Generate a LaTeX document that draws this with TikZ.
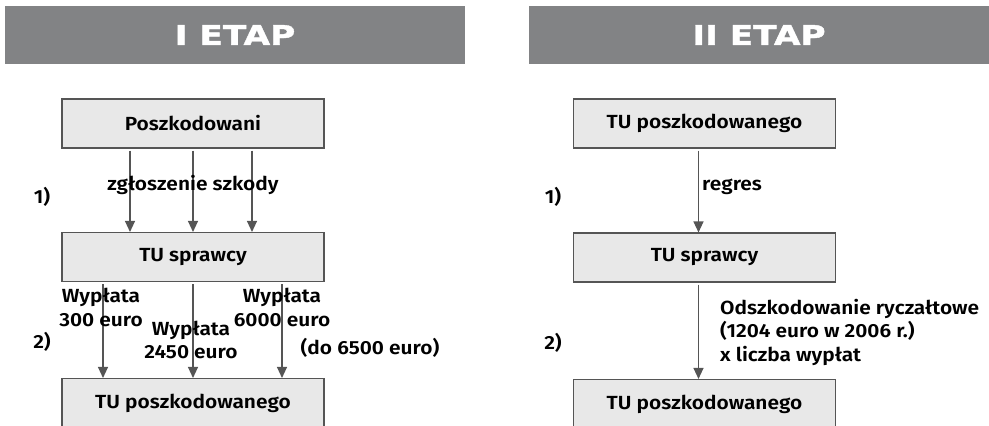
\documentclass[tikz,border=0pt]{standalone}
\usepackage{fontspec}
\setmainfont[FakeStretch=1.1]{Fira Sans SemiBold}
\newfontfamily\glowny[FakeStretch=1.27,FakeBold=1.5]{DejaVu Sans Bold}
\usepackage{xcolor}
\definecolor{szary}{RGB}{130,131,133}
\definecolor{szaryJasny}{RGB}{232,232,232}
\definecolor{szaryCiemny}{RGB}{85,85,85}
\usetikzlibrary{arrows.meta,calc,positioning}
\tikzstyle{pudelko}  =[rectangle, draw=szaryCiemny, fill=szaryJasny,
                    line width=1.1pt, minimum width=262pt,
                    minimum height=49pt, inner sep=0pt,
                    font=\fontsize{19}{23}\selectfont]
\tikzstyle{naglowek}=[rectangle, fill=szary, minimum width=460pt,
                    minimum height=58pt, inner sep=0pt, text=white,
                    font=\glowny\fontsize{27}{30}\selectfont]
\tikzstyle{strzalka}=[shorten <=2pt, -{Triangle[width=10pt,length=11pt]},
                    line width=1.2pt, szaryCiemny]
\tikzstyle{opis}  =[align=center, inner sep=0pt,
                    font=\fontsize{19}{23.5}\selectfont]

\begin{document}
\begin{tikzpicture}[x=1pt,y=-1pt]
    \useasboundingbox (0,0) rectangle (989,426);
    \clip (0,0) rectangle (989,426);

        % I etap
        \draw (235,35) node (etap1) [naglowek] {I ETAP};
        \draw (193,123.5) node (posz) [pudelko] {Poszkodowani};
        \draw (193,257) node (spr1) [pudelko] {TU sprawcy};
        \draw (193,403) node (tup1) [pudelko] {TU poszkodowanego};

        \foreach \d in {-63,0,59}
            \draw [strzalka] ([xshift=\d pt]posz.south) to ([xshift=\d pt]spr1.north);
        \foreach \d in {-90,0,89}
            \draw [strzalka] ([xshift=\d pt]spr1.south) to ([xshift=\d pt]tup1.north);

        \draw (193,185) node (zgl) [opis] {zgłoszenie szkody};
        \draw (42,197) node (krok1a) [opis] {1)};
        \draw (42,342) node (krok2a) [opis] {2)};
        \draw (101,307.5) node (w300) [opis] {Wypłata\\300 euro};
        \draw (191,340) node (w2450) [opis] {Wypłata\\2450 euro};
        \draw (282,307.5) node (w6000) [opis] {Wypłata\\6000 euro};
        \draw (370,348) node (do6500) [opis] {(do 6500 euro)};

        % II etap
        \draw (759,35) node (etap2) [naglowek] {II ETAP};
        \draw (704.5,123.5) node (tup2) [pudelko] {TU poszkodowanego};
        \draw (704.5,257.5) node (spr2) [pudelko] {TU sprawcy};
        \draw (704.5,404) node (tup3) [pudelko] {TU poszkodowanego};

        \draw [strzalka] ([xshift=-6pt]tup2.south) to ([xshift=-6pt]spr2.north);
        \draw [strzalka] ([xshift=-6pt]spr2.south) to ([xshift=-6pt]tup3.north);

        \draw (702,187) node (regres) [opis, anchor=west] {regres};
        \draw (553,197) node (krok1b) [opis] {1)};
        \draw (553,343) node (krok2b) [opis] {2)};
        \draw (720,332) node (rycz) [opis, anchor=west, align=left]
            {Odszkodowanie ryczałtowe\\(1204 euro w 2006 r.)\\x liczba wypłat};

\end{tikzpicture}
\end{document}
